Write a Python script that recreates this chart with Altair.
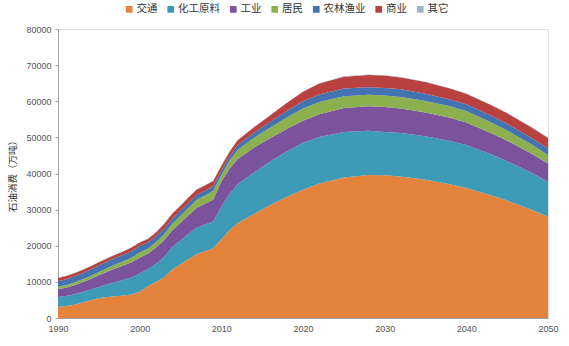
import altair as alt
import pandas as pd

years = [1990, 1991, 1992, 1993, 1994, 1995, 1996, 1997, 1998, 1999, 2000, 2001, 2002,
         2003, 2004, 2005, 2006, 2007, 2008, 2009, 2010, 2011, 2012, 2014, 2016, 2018,
         2020, 2022, 2025, 2028, 2030, 2032, 2035, 2038, 2040, 2043, 2045, 2048, 2050]

categories = ["交通", "化工原料", "工业", "居民", "农林渔业", "商业", "其它"]
colors = ["#E4843C", "#3E9BB8", "#7B539D", "#8CB04E", "#4373B0", "#B9413F", "#9DB3C8"]

transport = [3100, 3300, 3700, 4300, 4900, 5500, 5800, 6000, 6200, 6500, 7300, 8800, 10000,
             11300, 13400, 14900, 16300, 17700, 18500, 19300, 21800, 24300, 26200, 28800, 31300, 33500,
             35500, 37200, 38900, 39600, 39500, 39200, 38300, 37000, 36000, 34000, 32500, 30000, 28000]
chemical = [2700, 2800, 2900, 2900, 3000, 3100, 3500, 3900, 4300, 4700, 5000, 4700, 5000,
            5600, 6300, 6500, 7000, 7300, 7400, 7400, 9000, 10000, 10800, 11500, 12000, 12600,
            13000, 12900, 12600, 12200, 12000, 12000, 12000, 12000, 11900, 11300, 10900, 10200, 9700]
industry = [2200, 2300, 2500, 2700, 2900, 3200, 3500, 3800, 4000, 4200, 4400, 4300, 4500,
            4700, 4600, 5000, 5200, 5500, 5700, 6000, 7000, 7000, 7000, 6900, 6500, 6200,
            6100, 6300, 6600, 6800, 6900, 6800, 6600, 6400, 6200, 5900, 5700, 5300, 5100]
residential = [700, 700, 750, 800, 850, 900, 1000, 1100, 1200, 1300, 1400, 1400, 1500,
               1600, 1800, 1900, 2000, 2200, 2300, 2500, 1800, 2200, 2500, 2700, 2900, 3200,
               3400, 3400, 3300, 3200, 3200, 3200, 3200, 3200, 3200, 3000, 2800, 2500, 2300]
agriculture = [1500, 1600, 1650, 1700, 1750, 1800, 1800, 1800, 1800, 1800, 1800, 1700, 1600,
               1500, 1400, 1400, 1400, 1400, 1300, 1300, 1200, 1200, 1300, 1400, 1600, 1800,
               2000, 2100, 2100, 2100, 2100, 2100, 2000, 1900, 1850, 1850, 1850, 1850, 1850]
commerce = [900, 900, 900, 900, 900, 900, 900, 900, 900, 1000, 1000, 1000, 1100,
            1300, 1400, 1400, 1500, 1500, 1500, 1400, 1300, 1300, 1400, 1500, 1800, 2200,
            2600, 3000, 3300, 3400, 3400, 3300, 3200, 3000, 2900, 2900, 2900, 2900, 2900]
other = [100] * len(years)

series = [transport, chemical, industry, residential, agriculture, commerce, other]

rows = []
for idx, (cat, vals) in enumerate(zip(categories, series)):
    for y, v in zip(years, vals):
        rows.append({"year": y, "value": v, "cat": cat, "ord": idx})
df = pd.DataFrame(rows)

chart = alt.Chart(df).mark_area(opacity=1).encode(
    x=alt.X("year:Q",
            scale=alt.Scale(domain=[1990, 2050], nice=False, zero=False),
            axis=alt.Axis(values=[1990, 2000, 2010, 2020, 2030, 2040, 2050], format="d",
                          title=None, grid=False, ticks=False, labelFontSize=9,
                          labelColor="#555555", domainColor="#A0A0A0", labelPadding=6,
                          labelFlush=False, labelFont="Liberation Sans")),
    y=alt.Y("value:Q", stack="zero",
            scale=alt.Scale(domain=[0, 80000], nice=False),
            axis=alt.Axis(values=list(range(0, 80001, 10000)), format="d",
                          title="石油消费（万吨）", titleFontSize=9.5, titleFontWeight="normal",
                          titleColor="#333333", titleFont="Noto Sans CJK SC", titlePadding=8,
                          grid=False, tickSize=3, tickColor="#A0A0A0", labelFontSize=9,
                          labelColor="#555555", domainColor="#A0A0A0", labelPadding=4,
                          labelFont="Liberation Sans")),
    color=alt.Color("cat:N",
                    scale=alt.Scale(domain=categories, range=colors),
                    legend=alt.Legend(orient="none", legendX=66, legendY=-25, direction="horizontal",
                                      title=None, symbolType="square", symbolSize=45,
                                      symbolStrokeWidth=0, labelFontSize=10.5,
                                      labelFont="Noto Sans CJK SC", labelColor="#333333",
                                      columnPadding=7.5, labelOffset=2)),
    order=alt.Order("ord:Q", sort="ascending"),
).properties(
    width=490, height=289,
    autosize=alt.AutoSizeParams(type="none"),
    padding={"left": 58, "top": 29, "right": 21, "bottom": 28},
).configure_view(stroke=None).configure(background="white")

chart.save("out.html", embed_options={"renderer": "svg", "actions": False})
